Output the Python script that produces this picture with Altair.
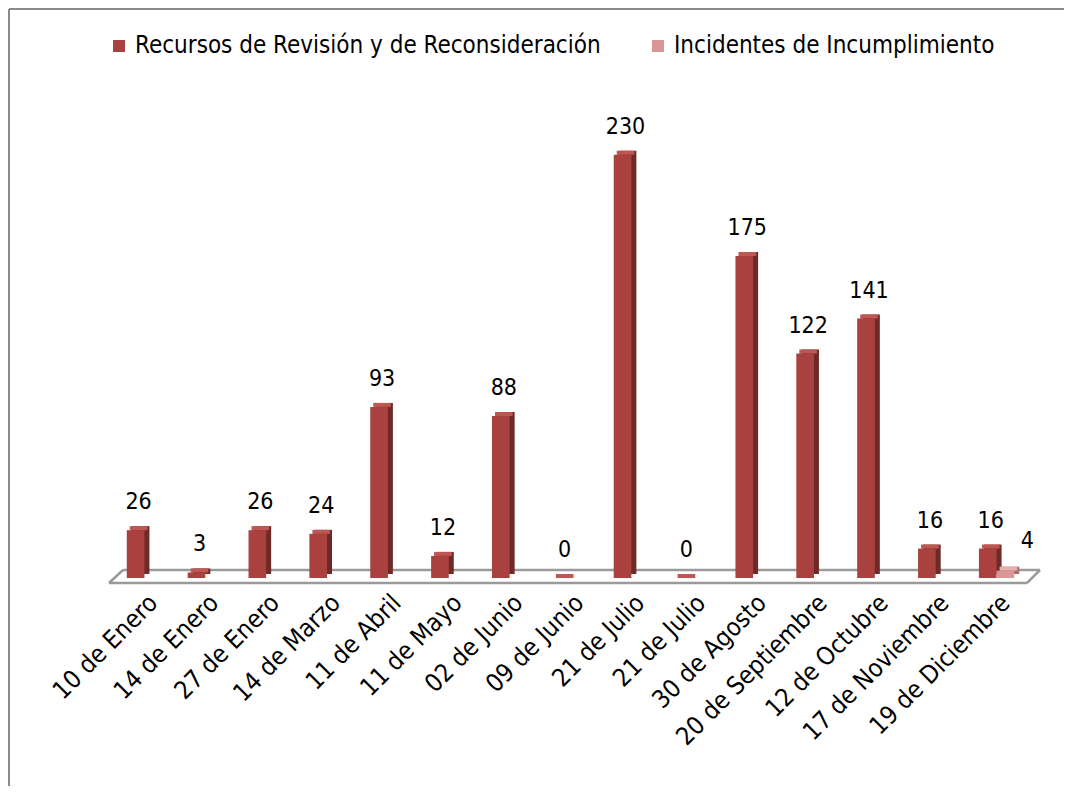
import altair as alt
import pandas as pd

categories = ["10 de Enero", "14 de Enero", "27 de Enero", "14 de Marzo", "11 de Abril",
              "11 de Mayo", "02 de Junio", "09 de Junio", "21 de Julio", "21 de Julio",
              "30 de Agosto", "20 de Septiembre", "12 de Octubre", "17 de Noviembre",
              "19 de Diciembre"]
series = ["Recursos de Revisión y de Reconsideración", "Incidentes de Incumplimiento"]
recursos = [26, 3, 26, 24, 93, 12, 88, 0, 230, 0, 175, 122, 141, 16, 16]
incidentes = [None, None, None, None, None, None, None, None, None, None, None, None, None, None, 4]

front_colors = ["#A9423F", "#D99694"]
side_colors = ["#6E2A28", "#A86E6C"]
top_colors = ["#BE5653", "#E6AEAC"]

rows = []
for i, (c, v) in enumerate(zip(categories, recursos)):
    if v is not None:
        rows.append({"idx": i, "cat": c, "serie": series[0], "s": 0, "value": v})
for i, (c, v) in enumerate(zip(categories, incidentes)):
    if v is not None:
        rows.append({"idx": i, "cat": c, "serie": series[1], "s": 1, "value": v})
df = pd.DataFrame(rows)

FONT = "Liberation Sans Narrow, DejaVu Sans Condensed, sans-serif"
BW = 0.29  # bar width in category units

label_expr = "[" + ",".join("'" + c + "'" for c in categories) + "][datum.value]"

xscale = alt.Scale(domain=[-0.5, len(categories) - 0.5], nice=False, zero=False)
xaxis = alt.Axis(values=list(range(len(categories))), labelExpr=label_expr,
                 labelAngle=315, labelAlign="right", labelBaseline="top",
                 labelFontSize=25, labelFont=FONT, labelColor="#000",
                 labelPadding=12, ticks=False, domain=False, grid=False, labelLimit=500,
                 labelOverlap=False, labelBound=False, labelFlush=False, title=None)
yenc = alt.Y("value:Q", scale=alt.Scale(domain=[0, 250]), axis=None)

base = alt.Chart(df).transform_calculate(
    x0=f"datum.idx - {BW} + datum.s * {BW}",
    x1=f"datum.idx + datum.s * {BW}",
    xm=f"datum.idx - {BW}/2 + datum.s * {BW}",
)

xenc = alt.X("x0:Q", scale=xscale, axis=xaxis, title=None)
x2enc = alt.X2("x1:Q")
xmenc = alt.X("xm:Q", scale=xscale, axis=xaxis, title=None)

side = base.mark_bar(xOffset=5, x2Offset=5, yOffset=-4, y2Offset=-4).encode(
    x=xenc, x2=x2enc, y=yenc, y2=alt.datum(0),
    color=alt.Color("serie:N", scale=alt.Scale(domain=series, range=side_colors), legend=None))

top = base.mark_bar(xOffset=3, x2Offset=3, yOffset=-4, y2Offset=0).encode(
    x=xenc, x2=x2enc, y=yenc, y2="value:Q",
    color=alt.Color("serie:N", scale=alt.Scale(domain=series, range=top_colors), legend=None))

front = base.mark_bar().encode(
    x=xenc, x2=x2enc, y=yenc, y2=alt.datum(0),
    color=alt.Color("serie:N", scale=alt.Scale(domain=series, range=front_colors),
                    legend=alt.Legend(title=None, orient="none", legendX=-7, legendY=-84,
                                      direction="horizontal", symbolType="square",
                                      symbolSize=144, symbolStrokeWidth=0,
                                      labelFontSize=24, labelFont=FONT, labelColor="#000",
                                      labelOffset=4, columnPadding=45, labelLimit=700)))

labels1 = base.transform_filter("datum.s == 0").mark_text(
    fontSize=23, font=FONT, color="#000", baseline="bottom", dy=-16, dx=3).encode(
    x=xmenc, y=yenc, text="value:Q")
labels2 = base.transform_filter("datum.s == 1").mark_text(
    fontSize=23, font=FONT, color="#000", baseline="bottom", dy=-18, dx=22).encode(
    x=xmenc, y=yenc, text="value:Q")

# floor parallelogram (decoration)
floor_rules = [
    dict(x=9, x2=926, y=452, y2=452),
    dict(x=-5, x2=913, y=465, y2=465),
    dict(x=-5, x2=9, y=465, y2=452),
    dict(x=913, x2=926, y=465, y2=452),
]
one = pd.DataFrame({"d": [0]})
floor_layers = [
    alt.Chart(one).mark_rule(color="#9A9A9A", strokeWidth=2.5).encode(
        x=alt.value(r["x"]), x2=alt.value(r["x2"]), y=alt.value(r["y"]), y2=alt.value(r["y2"]))
    for r in floor_rules
]

# outer frame (decoration)
frame_top = alt.Chart(one).mark_rule(color="#8A8A8A", strokeWidth=2).encode(
    x=alt.value(-105), x2=alt.value(1000), y=alt.value(-109))
frame_left = alt.Chart(one).mark_rule(color="#8A8A8A", strokeWidth=2).encode(
    x=alt.value(-105), y=alt.value(-109), y2=alt.value(700))

chart = alt.layer(frame_top, frame_left, *floor_layers, side, top, front, labels1, labels2).resolve_scale(
    color="independent"
).properties(
    width=913, height=460,
    autosize=alt.AutoSizeParams(type="none"),
    padding={"left": 106, "top": 110, "right": 37, "bottom": 208},
    background="white",
).configure_view(stroke=None)

chart.save("out.html", embed_options={"renderer": "svg", "actions": False})
